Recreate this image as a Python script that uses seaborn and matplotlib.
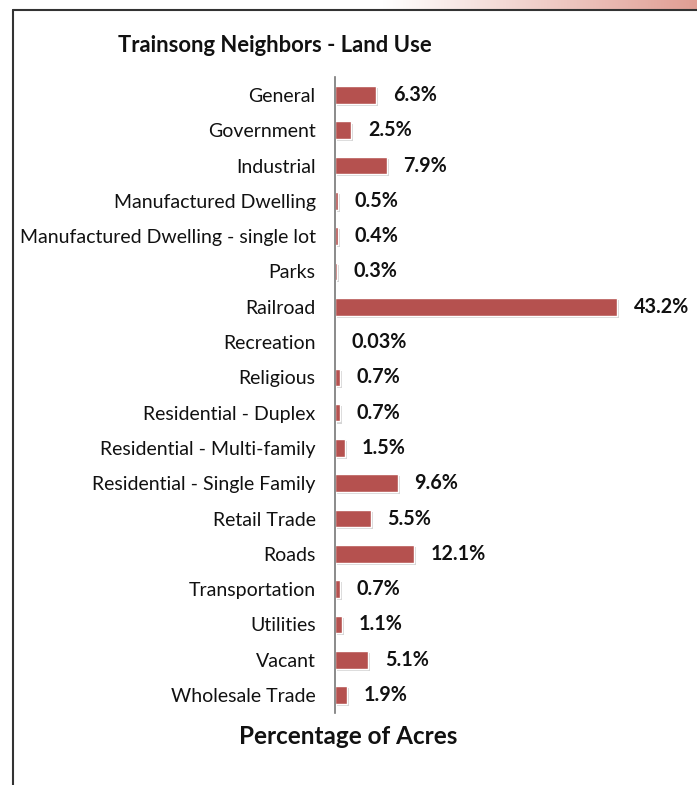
import numpy as np
import pandas as pd
import matplotlib
matplotlib.use("Agg")
import matplotlib.pyplot as plt
import matplotlib.patheffects as pe
import seaborn as sns

categories = ["General", "Government", "Industrial", "Manufactured Dwelling",
              "Manufactured Dwelling - single lot", "Parks", "Railroad", "Recreation",
              "Religious", "Residential - Duplex", "Residential - Multi-family",
              "Residential - Single Family", "Retail Trade", "Roads", "Transportation",
              "Utilities", "Vacant", "Wholesale Trade"]
values = [6.3, 2.5, 7.9, 0.5, 0.4, 0.3, 43.2, 0.03, 0.7, 0.7, 1.5, 9.6, 5.5, 12.1, 0.7, 1.1, 5.1, 1.9]
value_labels = ["6.3%", "2.5%", "7.9%", "0.5%", "0.4%", "0.3%", "43.2%", "0.03%", "0.7%",
                "0.7%", "1.5%", "9.6%", "5.5%", "12.1%", "0.7%", "1.1%", "5.1%", "1.9%"]

sns.set_style("white")
plt.rcParams['font.family'] = ['Lato', 'DejaVu Sans']

W, H = 697, 785
fig = plt.figure(figsize=(W / 100, H / 100), dpi=100)

# top gradient strip
grad_ax = fig.add_axes([0, 1 - 10 / H, 1, 10 / H])
g = np.linspace(0, 1, 256)
g = np.clip((g - 0.55) / 0.45, 0, 1)
c0 = np.array([1, 1, 1])
c1 = np.array([0.88, 0.62, 0.58])
img = (c0[None, :] * (1 - g[:, None]) + c1[None, :] * g[:, None])[None, :, :]
grad_ax.imshow(img, aspect='auto', extent=[0, 1, 0, 1])
grad_ax.axis('off')

# frame lines
fig.add_artist(plt.Line2D([13 / W, 13 / W], [0, 1 - 10 / H], color='#333333', lw=1.5,
                          transform=fig.transFigure))
fig.add_artist(plt.Line2D([13 / W, 1], [1 - 10 / H, 1 - 10 / H], color='#333333', lw=1.5,
                          transform=fig.transFigure))

left_px, right_px = 335, 640
top_px, bot_px = 77.35, 712.65
ax = fig.add_axes([left_px / W, 1 - bot_px / H, (right_px - left_px) / W, (bot_px - top_px) / H])

df = pd.DataFrame({"category": categories, "value": values})
sns.barplot(data=df, x="value", y="category", orient="h", color="#b5514f",
            saturation=1, width=0.5, ax=ax)

scale = 43.2 / (617 - left_px)
ax.set_xlim(0, (right_px - left_px) * scale)
ax.set_ylim(len(categories) - 0.5, -0.5)

for p in ax.patches:
    p.set_path_effects([pe.SimplePatchShadow(offset=(1.5, -1.5), shadow_rgbFace='#777777', alpha=0.3),
                        pe.Normal()])

ax.bar_label(ax.containers[0], labels=value_labels, padding=12, fontsize=14.2,
             fontweight='bold', color='#111111')

ax.set_ylabel("")
ax.set_xlabel("")
ax.set_xticks([])
ax.tick_params(axis='y', length=0, pad=14, labelsize=14, labelcolor='#111111')
for s in ["top", "right", "bottom"]:
    ax.spines[s].set_visible(False)
ax.spines["left"].set_color('#777777')
ax.spines["left"].set_linewidth(1.2)

fig.text(118 / W, 1 - 46 / H, "Trainsong Neighbors - Land Use", fontsize=15.8,
         fontweight='bold', ha='left', va='center', color='#111111')
fig.text(348 / W, 1 - 736 / H, "Percentage of Acres", fontsize=17.5,
         fontweight='bold', ha='center', va='center', color='#111111')

fig.savefig("out.png", dpi=100, facecolor='white')
